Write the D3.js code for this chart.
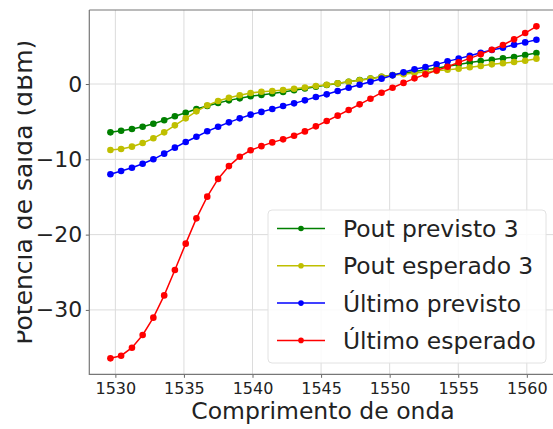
<!DOCTYPE html>
<html>
<head>
<meta charset="utf-8">
<script src="https://cdn.jsdelivr.net/npm/d3@7"></script>
<style>
    body { margin: 0; background: #fff; }
    svg { display: block; font-family: "DejaVu Sans", sans-serif; }
</style>
</head>
<body>
<svg width="553" height="429"></svg>
<script>
// Wavelength of each channel (nm)
let wavelength = [1529.64, 1530.42, 1531.21, 1531.99, 1532.77, 1533.56, 1534.34, 1535.13, 1535.91, 1536.70,
    1537.49, 1538.28, 1539.07, 1539.86, 1540.65, 1541.44, 1542.23, 1543.03, 1543.82, 1544.62,
    1545.41, 1546.21, 1547.01, 1547.81, 1548.60, 1549.41, 1550.21, 1551.01, 1551.81, 1552.61,
    1553.42, 1554.22, 1555.03, 1555.84, 1556.64, 1557.45, 1558.26, 1559.07, 1559.88, 1560.70];

let poutPrevisto = [-6.42, -6.2, -5.98, -5.67, -5.27, -4.82, -4.29, -3.81, -3.32, -2.92,
    -2.52, -2.17, -1.9, -1.62, -1.45, -1.25, -1.05, -0.82, -0.6, -0.37,
    -0.14, 0.08, 0.3, 0.52, 0.74, 0.97, 1.2, 1.42, 1.65, 1.88,
    2.1, 2.35, 2.6, 2.85, 3.05, 3.23, 3.41, 3.59, 3.85, 4.12];

let poutEsperado = [-8.76, -8.63, -8.32, -7.84, -7.21, -6.42, -5.49, -4.56, -3.63, -2.83,
    -2.26, -1.82, -1.5, -1.2, -1.02, -0.93, -0.8, -0.62, -0.47, -0.27,
    -0.09, 0.09, 0.3, 0.5, 0.71, 0.95, 1.15, 1.3, 1.45, 1.6,
    1.75, 1.9, 2.03, 2.22, 2.39, 2.61, 2.75, 2.92, 3.1, 3.37];

let ultimoPrevisto = [-11.99, -11.55, -11.11, -10.58, -10.0, -9.25, -8.45, -7.7, -7.0, -6.28,
    -5.67, -5.09, -4.56, -4.07, -3.7, -3.32, -2.92, -2.57, -2.17, -1.73,
    -1.37, -0.93, -0.49, -0.09, 0.31, 0.71, 1.15, 1.55, 1.95, 2.26,
    2.61, 3.01, 3.37, 3.76, 4.16, 4.52, 4.82, 5.22, 5.53, 5.88];

let ultimoEsperado = [-36.43, -36.08, -35.02, -33.33, -31.03, -28.07, -24.7, -21.2, -17.84, -14.96,
    -12.6, -10.9, -9.65, -8.8, -8.25, -7.75, -7.35, -6.86, -6.29, -5.62,
    -4.91, -4.2, -3.45, -2.7, -1.95, -1.15, -0.49, 0.15, 0.75, 1.28,
    1.81, 2.3, 2.88, 3.41, 3.94, 4.56, 5.18, 5.93, 6.77, 7.66];

let seriesNames = ["Pout previsto 3", "Pout esperado 3", "Último previsto", "Último esperado"];
let seriesColors = ["#008000", "#bfbf00", "#0000ff", "#ff0000"];
let xTicks = [1530, 1535, 1540, 1545, 1550, 1555, 1560];
let yTicks = [-30, -20, -10, 0];

let series = [poutPrevisto, poutEsperado, ultimoPrevisto, ultimoEsperado].map((values, i) => ({
    name: seriesNames[i],
    color: seriesColors[i],
    points: values.map((v, j) => [wavelength[j], v])
}));

let svg = d3.select("svg");

// plot area (the right edge sits just past the picture)
let plotLeft = 89.3, plotTop = 10, plotBottom = 374.3, plotRight = 557;

let x = d3.scaleLinear().domain([1528.1, 1562.2]).range([plotLeft, plotRight]);
let y = d3.scaleLinear().domain([-38.55, 9.83]).range([plotBottom, plotTop]);

// the original figure was cropped on the left, cutting the top of the y label
svg.append("defs").append("clipPath").attr("id", "cropLeft")
    .append("rect").attr("x", 17.5).attr("y", 0).attr("width", 553).attr("height", 429);

// grid
let grid = svg.append("g").attr("stroke", "#dcdcdc").attr("stroke-width", 1);
grid.selectAll(".gx").data(xTicks).enter().append("line")
    .attr("x1", (d) => x(d)).attr("x2", (d) => x(d))
    .attr("y1", plotTop).attr("y2", plotBottom);
grid.selectAll(".gy").data(yTicks).enter().append("line")
    .attr("x1", plotLeft).attr("x2", plotRight)
    .attr("y1", (d) => y(d)).attr("y2", (d) => y(d));

// axes
let xAxis = svg.append("g")
    .attr("transform", `translate(0,${plotBottom})`)
    .call(d3.axisBottom(x).tickValues(xTicks).tickSize(3.5).tickPadding(4.5).tickFormat(d3.format("d")));
let yAxis = svg.append("g")
    .attr("transform", `translate(${plotLeft},0)`)
    .call(d3.axisLeft(y).tickValues(yTicks).tickSize(3.5).tickPadding(3.5).tickFormat((d) => d < 0 ? "\u2212" + Math.abs(d) : d));

xAxis.selectAll("text").attr("font-size", 16).attr("fill", "#222").attr("font-family", "DejaVu Sans");
yAxis.selectAll("text").attr("font-size", 22).attr("fill", "#222").attr("font-family", "DejaVu Sans");
svg.selectAll(".tick line").attr("stroke", "#666");
svg.selectAll(".domain").remove();

// spines
svg.append("path")
    .attr("d", `M${plotLeft},${plotTop}H${plotRight}M${plotLeft},${plotTop}V${plotBottom}H${plotRight}`)
    .attr("fill", "none")
    .attr("stroke", "#777")
    .attr("stroke-width", 1.2);

// axis labels
svg.append("text")
    .attr("x", 323).attr("y", 419)
    .attr("text-anchor", "middle")
    .attr("font-size", 23.5).attr("fill", "#222")
    .text("Comprimento de onda");

svg.append("g").attr("clip-path", "url(#cropLeft)")
    .append("text")
    .attr("transform", `translate(32,${(plotTop + plotBottom) / 2}) rotate(-90)`)
    .attr("text-anchor", "middle")
    .attr("font-size", 25).attr("fill", "#222")
    .text("Potencia de saída (dBm)");

// lines and markers
let line = d3.line().x((d) => x(d[0])).y((d) => y(d[1]));

let groups = svg.append("g").selectAll("g").data(series).enter().append("g");
groups.append("path")
    .attr("d", (d) => line(d.points))
    .attr("fill", "none")
    .attr("stroke", (d) => d.color)
    .attr("stroke-width", 1.5);
groups.selectAll("circle")
    .data((d) => d.points.map((p) => ({ p: p, color: d.color })))
    .enter()
    .append("circle")
    .attr("cx", (d) => x(d.p[0]))
    .attr("cy", (d) => y(d.p[1]))
    .attr("r", 3.3)
    .attr("fill", (d) => d.color);

// legend
let legend = svg.append("g");
legend.append("rect")
    .attr("x", 268).attr("y", 210)
    .attr("width", 278).attr("height", 153)
    .attr("rx", 4)
    .attr("fill", "#fff").attr("fill-opacity", 0.85)
    .attr("stroke", "#e2e2e2");

let rows = legend.selectAll(".row").data(series).enter().append("g")
    .attr("transform", (d, i) => `translate(0,${228.5 + i * 37.3})`);
rows.append("line")
    .attr("x1", 277).attr("x2", 325)
    .attr("stroke", (d) => d.color).attr("stroke-width", 1.5);
rows.append("circle")
    .attr("cx", 301).attr("r", 2.8)
    .attr("fill", (d) => d.color);
rows.append("text")
    .attr("x", 343).attr("y", 8.5)
    .attr("font-size", 23.4).attr("fill", "#222")
    .text((d) => d.name);
</script>
</body>
</html>
